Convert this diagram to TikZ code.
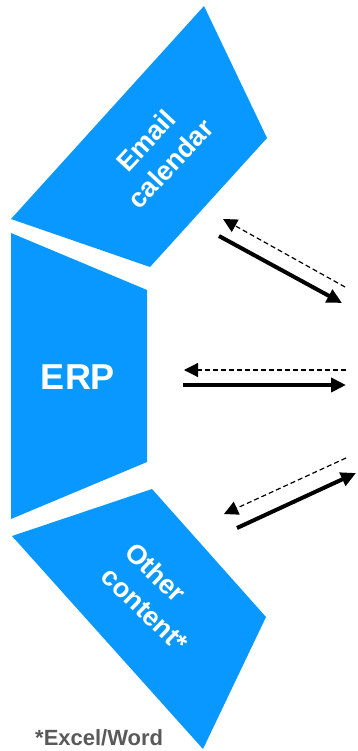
\documentclass[tikz,border=0pt]{standalone}
\usepackage{fontspec}
\setmainfont{Liberation Sans}
\usetikzlibrary{arrows.meta}
\definecolor{boxblue}{RGB}{8,152,255}
\definecolor{notegray}{RGB}{89,89,89}
\tikzset{
  shapefill/.style={fill=boxblue, draw=none},
  boxtext/.style={text=white, font=\bfseries\fontsize{27}{34}\selectfont, inner sep=0pt},
  pushline/.style={line width=4pt, -{Triangle[length=15pt,width=14pt]}},
  pullline/.style={line width=1.2pt, dash pattern=on 5pt off 3pt, -{Triangle[length=14pt,width=14pt]}},
}
\begin{document}
\begin{tikzpicture}[x=1pt,y=-1pt]
\useasboundingbox (0,0) rectangle (357,751);
% shapes
\path[shapefill] (204,6) -- (267,138) -- (150,267) -- (11,219) -- cycle;
\path[shapefill] (11,233) -- (147,290) -- (147,462) -- (11,519) -- cycle;
\path[shapefill] (152,489) -- (266,617) -- (203,749) -- (12,536) -- cycle;
% labels
\node[boxtext, rotate=47, align=center] (email) at (158,152) {Email\\calendar};
\node[boxtext, font=\bfseries\fontsize{36}{40}\selectfont] (erp) at (78,377) {ERP};
\node[boxtext, rotate=-44, align=left] (other) at (157,597) {Other\\content*};
\node[text=notegray, font=\bfseries\fontsize{22}{26}\selectfont, inner sep=0pt, anchor=base west] (note) at (35,745) {*Excel/Word};
% arrow end points
\coordinate (a1s) at (219,236); \coordinate (a1e) at (342,303);
\coordinate (d1s) at (345,287); \coordinate (d1e) at (223,219);
\coordinate (a2s) at (183,385); \coordinate (a2e) at (346,385);
\coordinate (d2s) at (346,370); \coordinate (d2e) at (184,370);
\coordinate (a3s) at (237,528); \coordinate (a3e) at (356,473);
\coordinate (d3s) at (346,458); \coordinate (d3e) at (224,514);
% arrows
\draw[pushline] (a1s) -- (a1e);
\draw[pullline] (d1s) -- (d1e);
\draw[pushline] (a2s) -- (a2e);
\draw[pullline] (d2s) -- (d2e);
\draw[pushline] (a3s) -- (a3e);
\draw[pullline] (d3s) -- (d3e);
\end{tikzpicture}
\end{document}
